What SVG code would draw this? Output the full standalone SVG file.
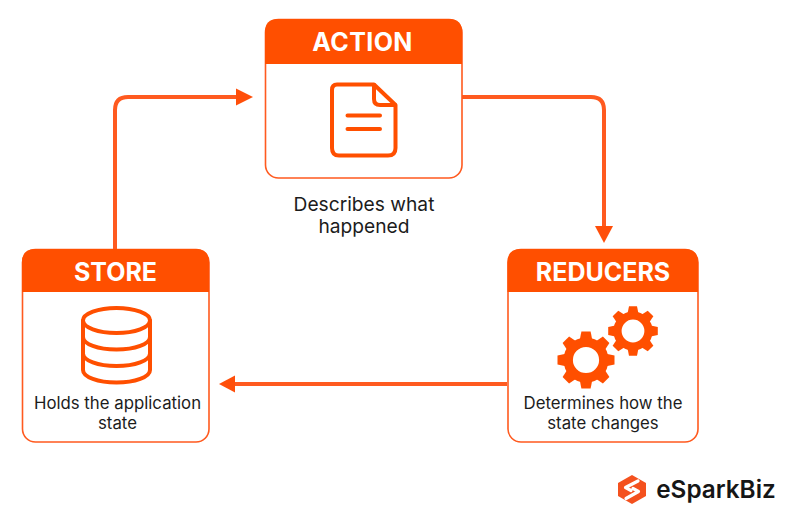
<svg xmlns="http://www.w3.org/2000/svg" width="785" height="519" viewBox="0 0 785 519">
<style>
text{font-family:Inter,"Liberation Sans",sans-serif;text-anchor:middle}
.box{fill:#fff;stroke:#ff5a1f;stroke-width:1.6}
.hd{fill:#ff4f00}
.title{font-size:25px;font-weight:700;fill:#fff}
.body{font-size:16.800px;fill:#1c1c1c}
.lead{font-size:19.200px;fill:#1c1c1c}
.ic{fill:none;stroke:#ff4f00;stroke-width:4;stroke-linecap:round;stroke-linejoin:round}
.con{fill:none;stroke:#ff5a1f;stroke-width:4}
.ar{fill:#ff4f0a}
.gr{fill:#ff4f00}
</style>
<defs>
<g id="gear">
<path id="tooth" d="M-6.500 -19L-4.600 -28.500H4.600L6.500 -19Z"/>
<use href="#tooth" transform="rotate(45)"/>
<use href="#tooth" transform="rotate(90)"/>
<use href="#tooth" transform="rotate(135)"/>
<use href="#tooth" transform="rotate(180)"/>
<use href="#tooth" transform="rotate(225)"/>
<use href="#tooth" transform="rotate(270)"/>
<use href="#tooth" transform="rotate(315)"/>
<circle r="17.800" fill="none" stroke="#ff4f00" stroke-width="9.400"/>
</g>
</defs>
<rect width="785" height="519" fill="#fff"/>
<g id="connectors">
<path class="con" d="M115 249V110Q115 97 128 97H238"/>
<path class="ar" d="M253 97L236 88.500V105.500Z"/>
<path class="con" d="M462 97H591Q604 97 604 110V228"/>
<path class="ar" d="M604 243L595 226H613Z"/>
<path class="con" d="M507 384H233"/>
<path class="ar" d="M219 384L235 375.500V392.500Z"/>
</g>
<g id="action">
<rect class="box" x="265.500" y="19.500" width="196.500" height="158.500" rx="13"/>
<path class="hd" d="M265 64V32Q265 19 278 19H449Q462 19 462 32V64Z"/>
<text class="title" x="362.500" y="51" letter-spacing="0.400">ACTION</text>
<path class="ic" d="M337 84.500H374L395.500 105V148Q395.500 155.500 388 155.500H339Q332 155.500 332 148V90Q332 84.500 337 84.500Z"/>
<path class="ic" d="M374 85V99Q374 105 380 105H395M347.500 115.500H380M347.500 129H380"/>
<text class="lead" x="364" y="210.500">Describes what</text>
<text class="lead" x="364" y="233">happened</text>
</g>
<g id="reducers">
<rect class="box" x="508" y="249.500" width="190" height="192.500" rx="13"/>
<path class="hd" d="M507.500 292V262Q507.500 249 520.500 249H685Q698 249 698 262V292Z"/>
<text class="title" x="603" y="281">REDUCERS</text>
<use href="#gear" class="gr" transform="translate(586 360)"/>
<use href="#gear" class="gr" transform="translate(633 331) scale(.87)"/>
<text class="body" x="603" y="409">Determines how the</text>
<text class="body" x="603" y="429">state changes</text>
</g>
<g id="store">
<rect class="box" x="22.500" y="249.500" width="186.500" height="192.500" rx="13"/>
<path class="hd" d="M22 292V262Q22 249 35 249H196Q209 249 209 262V292Z"/>
<text class="title" x="115.500" y="281">STORE</text>
<ellipse class="ic" cx="116.500" cy="320.500" rx="33.500" ry="12.500"/>
<path class="ic" d="M83 320.500V370C83 377 98 382.500 116.500 382.500S150 377 150 370V320.500M83 337C83 344 98 349.500 116.500 349.500S150 344 150 337M83 353.500C83 360.500 98 366 116.500 366S150 360.500 150 353.500"/>
<text class="body" x="117.500" y="409">Holds the application</text>
<text class="body" x="117.500" y="429">state</text>
</g>
<g id="logo">
<path fill="#f4511e" d="M632 475L646 483V496L632 504L618 496V483Z"/>
<path fill="none" stroke="#fff" stroke-width="3.200" stroke-linecap="round" stroke-linejoin="round" d="M638 481L625.500 487.500L631 490.500M633 488.500L638.500 491.500L626 498.500"/>
<text x="716" y="498" style="font-size:24.300px;font-weight:600;fill:#161616">eSparkBiz</text>
</g>
</svg>
